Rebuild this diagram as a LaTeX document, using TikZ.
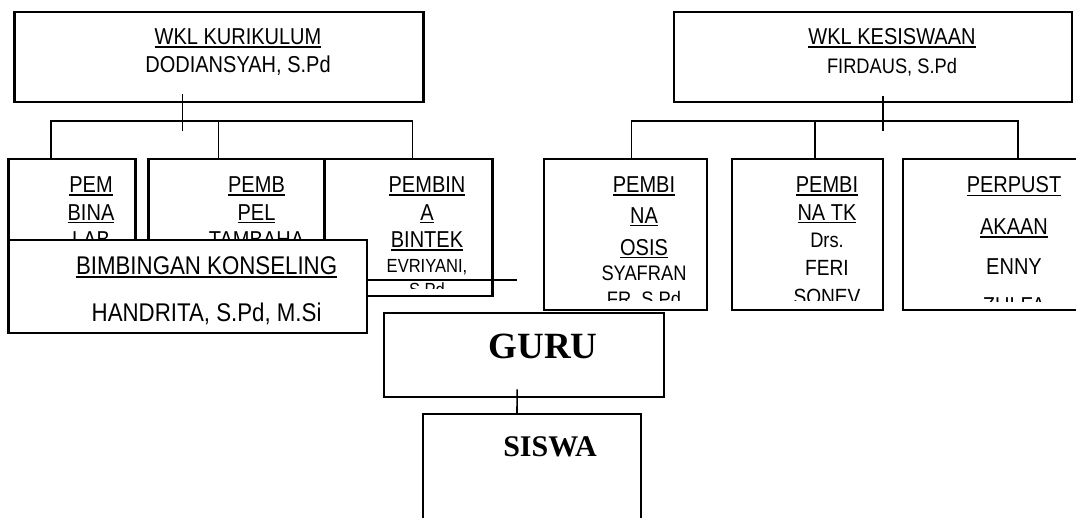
\documentclass[tikz,border=0pt]{standalone}
\usepackage{fontspec}
\usepackage{tikz}
\usetikzlibrary{calc}
\newfontfamily\narrowsans[FakeStretch=0.87]{Liberation Sans}
\newfontfamily\titleserif{Liberation Serif}
\newcommand{\ulin}[1]{\setbox0=\hbox{#1}\rlap{\rule[-3.2pt]{\wd0}{1.6pt}}\box0}

\begin{document}
\begin{tikzpicture}[x=1pt,y=-1pt]
    \tikzstyle{box}=[draw,rectangle,line width=2.3pt,fill=white,inner sep=0pt]
    \tikzstyle{link}=[line width=1.6pt]
    \tikzstyle{txt}=[anchor=north,align=center,inner sep=0pt,font=\narrowsans\fontsize{23}{27.5}\selectfont]
    \tikzstyle{big}=[anchor=north,inner sep=0pt]
    \path[fill=white,use as bounding box] (0,0) rectangle (1076,517);

    % wakil kepala sekolah
    \node[box,minimum width=409pt,minimum height=90.6pt] (kur) at (219,57) {};
    \node[txt] (kurtxt) at (238,28.3) {\ulin{WKL KURIKULUM}\\[0.8pt]DODIANSYAH, S.Pd};
    \node[box,minimum width=398.3pt,minimum height=90.6pt] (kes) at (872.85,57) {};
    \node[txt] (kestxt) at (892,28.3) {\ulin{WKL KESISWAAN}\\[1.8pt]{\fontsize{21}{24}\selectfont FIRDAUS, S.Pd}};

    % pembina bawah kurikulum
    \node[box,minimum width=127pt,minimum height=136.7pt] (pem) at (72,227.65) {};
    \node[txt] (pemtxt) at (91,176.7) {\ulin{PEM}\\\ulin{BINA}\\\ulin{LAB}};
    \node[box,minimum width=175.9pt,minimum height=136.7pt] (pel) at (236.55,227.65) {};
    \node[txt] (peltxt) at (256.5,176.7) {\ulin{PEMB}\\\ulin{PEL}\\\ulin{TAMBAHA}};
    \node[box,minimum width=168pt,minimum height=136.7pt] (bintek) at (408.5,227.65) {};
    \begin{scope}
        \clip (bintek.north west) rectangle ([yshift=9pt]bintek.south east);
        \node[txt] (bintektxt) at (427,176.7) {\ulin{PEMBIN}\\\ulin{A}\\\ulin{BINTEK}\\[-2.5pt]{\fontsize{19}{22}\selectfont EVRIYANI,}\\[-4pt]{\fontsize{19}{22}\selectfont S.Pd}};
    \end{scope}

    % pembina bawah kesiswaan
    \node[box,minimum width=163.3pt,minimum height=150.7pt] (osis) at (625.45,234.65) {};
    \begin{scope}
        \clip (osis.north west) rectangle ([yshift=11pt]osis.south east);
        \node[txt] (osistxt) at (644,176.7) {\ulin{PEMBI}\\[3pt]\ulin{NA}\\[4.5pt]\ulin{OSIS}\\[-2pt]{\fontsize{21}{24}\selectfont SYAFRAN}\\[-1.8pt]{\fontsize{21}{24}\selectfont FR, S.Pd}};
    \end{scope}
    \node[box,minimum width=150.5pt,minimum height=150.7pt] (tk) at (807.55,234.65) {};
    \begin{scope}
        \clip (tk.north west) rectangle ([yshift=11pt]tk.south east);
        \node[txt] (tktxt) at (827,176.7) {\ulin{PEMBI}\\\ulin{NA TK}\\{\fontsize{21}{24}\selectfont Drs.}\\{\fontsize{22}{24}\selectfont FERI}\\[1.5pt]{\fontsize{22}{24}\selectfont SONEV}};
    \end{scope}
    \node[box,minimum width=184.3pt,minimum height=150.7pt] (perpus) at (994.85,234.65) {};
    \begin{scope}
        \clip (perpus.north west) rectangle ([yshift=10pt]perpus.south east);
        \node[txt] (perpustxt) at (1014,176.7) {\ulin{PERPUST}\\[14pt]\ulin{AKAAN}\\[12.5pt]ENNY\\[12pt]ZULFA};
    \end{scope}

    % garis
    \draw[link] ([xshift=-36.5pt,yshift=9pt]kur.south) -- ++(0,37);
    \draw[link] ([xshift=-21pt]pem.north) -- ++(0,-37) -| ([xshift=4pt]bintek.north);
    \draw[link] ([xshift=-18pt]pel.north) -- ++(0,-37);
    \draw[link] ([xshift=10pt,yshift=7pt]kes.south) -- ++(0,35);
    \draw[link] ([xshift=6pt]osis.north) -- ++(0,-37) -| ([xshift=23pt]perpus.north);
    \draw[link] ([xshift=7.5pt]tk.north) -- ++(0,-37);

    % bimbingan konseling
    \node[box,minimum width=358.7pt,minimum height=93pt] (bk) at (187.85,286.5) {};
    \node[txt,font=\narrowsans\fontsize{25.6}{30}\selectfont] (bktxt) at (206.6,256.7) {\ulin{BIMBINGAN KONSELING}\\[16.7pt]HANDRITA, S.Pd, M.Si};
    \coordinate (bkend) at (516.5,280);
    \draw[link] ([yshift=6.5pt]bk.east) -- (bkend);

    % guru dan siswa
    \node[box,minimum width=279.7pt,minimum height=84pt] (guru) at (524.15,355.3) {};
    \node[big,font=\titleserif\bfseries\fontsize{37}{40}\selectfont] (gurutxt) at (543,333.3) {GURU};
    \node[box,minimum width=217.4pt,minimum height=145.7pt] (siswa) at (532,487.15) {};
    \node[big,font=\titleserif\bfseries\fontsize{30}{34}\selectfont] (siswatxt) at (550,436.7) {SISWA};
    \draw[link] ([xshift=-7pt,yshift=9pt]guru.south) -- ([xshift=-15pt]siswa.north);
\end{tikzpicture}
\end{document}
